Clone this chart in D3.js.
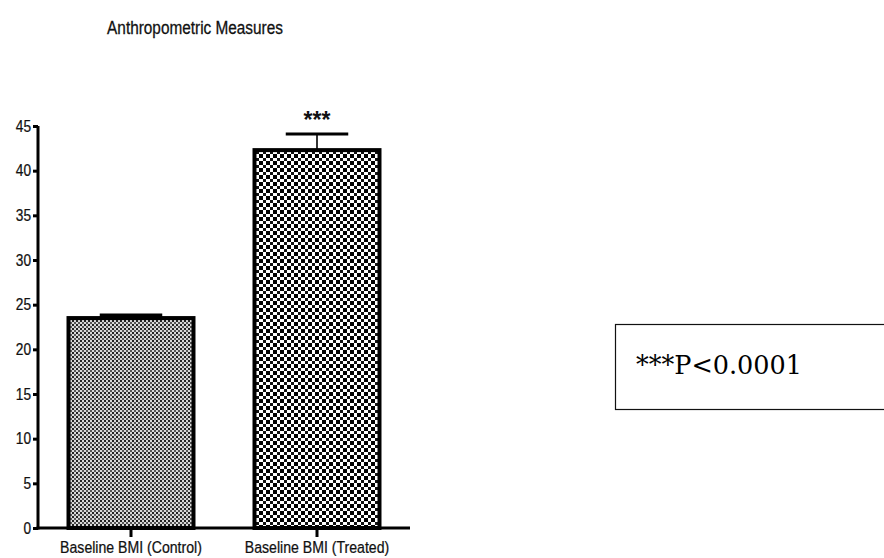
<!DOCTYPE html>
<html>
<head>
<meta charset="utf-8">
<script src="https://cdn.jsdelivr.net/npm/d3@7"></script>
<style>
  html, body { margin: 0; padding: 0; background: #fff; }
  svg { display: block; }
</style>
</head>
<body>
<svg id="chart" width="884" height="558"></svg>
<script>
const categories = ["Baseline BMI (Control)", "Baseline BMI (Treated)"];
const means = [23.5, 42.3];
const errors = [0.3, 1.8];
const yTicks = [0, 5, 10, 15, 20, 25, 30, 35, 40, 45];
const titleText = "Anthropometric Measures";
const sigMarks = ["", "***"];
const noteText = "***P<0.0001";

const FONT = "Liberation Sans, Arial, sans-serif";
const NARROW = 0.83;

const svg = d3.select("#chart");
const defs = svg.append("defs");

// fine checker (control)
const p1 = defs.append("pattern").attr("id", "fine").attr("patternUnits", "userSpaceOnUse")
  .attr("width", 4).attr("height", 4);
p1.append("rect").attr("width", 4).attr("height", 4).attr("fill", "#d8d8d8");
p1.append("rect").attr("x", 0).attr("y", 0).attr("width", 2).attr("height", 2).attr("fill", "#222");
p1.append("rect").attr("x", 2).attr("y", 2).attr("width", 2).attr("height", 2).attr("fill", "#555");

// coarse checker (treated)
const p2 = defs.append("pattern").attr("id", "coarse").attr("patternUnits", "userSpaceOnUse")
  .attr("width", 7).attr("height", 7);
p2.append("rect").attr("width", 7).attr("height", 7).attr("fill", "#fff");
p2.append("rect").attr("x", 0).attr("y", 0).attr("width", 4).attr("height", 4).attr("fill", "#000");
p2.append("rect").attr("x", 4).attr("y", 4).attr("width", 3).attr("height", 3).attr("fill", "#111");

const x = d3.scaleBand().domain(categories).range([38, 410]).paddingInner(0.328).paddingOuter(0.164);
const y = d3.scaleLinear().domain([0, 45]).range([528, 126]);

// title
svg.append("text").attr("transform", `translate(195,34) scale(${NARROW},1)`).attr("text-anchor", "middle")
  .attr("font-family", FONT).attr("font-size", 18.5)
  .attr("fill", "#111").attr("stroke", "#111").attr("stroke-width", 0.3).text(titleText);

// bars
const fills = ["url(#fine)", "url(#coarse)"];
svg.selectAll("rect.bar").data(categories).enter().append("rect")
  .attr("class", "bar")
  .attr("x", d => x(d))
  .attr("y", (d, i) => y(means[i]))
  .attr("width", x.bandwidth())
  .attr("height", (d, i) => y(0) - y(means[i]))
  .attr("fill", (d, i) => fills[i])
  .attr("stroke", "#000").attr("stroke-width", 4);

// error bars
categories.forEach((c, i) => {
  const cx = x(c) + x.bandwidth() / 2;
  const top = y(means[i] + errors[i]);
  const capW = x.bandwidth() * 0.5;
  svg.append("line").attr("x1", cx).attr("x2", cx).attr("y1", y(means[i])).attr("y2", top)
    .attr("stroke", "#000").attr("stroke-width", 1.6);
  svg.append("line").attr("x1", cx - capW / 2).attr("x2", cx + capW / 2).attr("y1", top).attr("y2", top)
    .attr("stroke", "#000").attr("stroke-width", i === 0 ? 4 : 3);
  if (sigMarks[i]) {
    svg.append("text").attr("x", cx).attr("y", top - 6).attr("text-anchor", "middle")
      .attr("font-family", FONT).attr("font-size", 23)
      .attr("font-weight", "bold").attr("fill", "#111").text(sigMarks[i]);
  }
});

// y axis
const yAxis = svg.append("g").attr("transform", "translate(38,0)")
  .call(d3.axisLeft(y).tickValues(yTicks).tickSize(5).tickPadding(2));
yAxis.select(".domain").attr("stroke-width", 3).attr("d", `M0,${y(45)}V${y(0) + 1.5}`);
yAxis.selectAll(".tick line").attr("stroke-width", 3);
yAxis.selectAll(".tick text")
  .attr("x", null)
  .attr("transform", `translate(-7,0) scale(${NARROW},1)`)
  .attr("font-family", FONT)
  .attr("font-size", 16.5).attr("fill", "#111").attr("stroke", "#111").attr("stroke-width", 0.25);

// x axis
const xAxis = svg.append("g").attr("transform", `translate(0,${y(0)})`)
  .call(d3.axisBottom(x).tickSize(9).tickPadding(4));
xAxis.select(".domain").attr("stroke-width", 3).attr("d", "M36.5,0H410");
xAxis.selectAll(".tick line").attr("stroke-width", 3);
xAxis.selectAll(".tick text")
  .attr("y", null).attr("dy", null)
  .attr("transform", `translate(0,25) scale(${NARROW},1)`)
  .attr("font-family", FONT)
  .attr("font-size", 17).attr("fill", "#111").attr("stroke", "#111").attr("stroke-width", 0.25);

// note box
svg.append("rect").attr("x", 615.5).attr("y", 324.5).attr("width", 280).attr("height", 85)
  .attr("fill", "none").attr("stroke", "#111").attr("stroke-width", 1.2);
svg.append("text").attr("x", 636).attr("y", 374)
  .attr("font-family", "DejaVu Serif, serif").attr("font-size", 25.5)
  .attr("fill", "#000").text(noteText);
</script>
</body>
</html>
